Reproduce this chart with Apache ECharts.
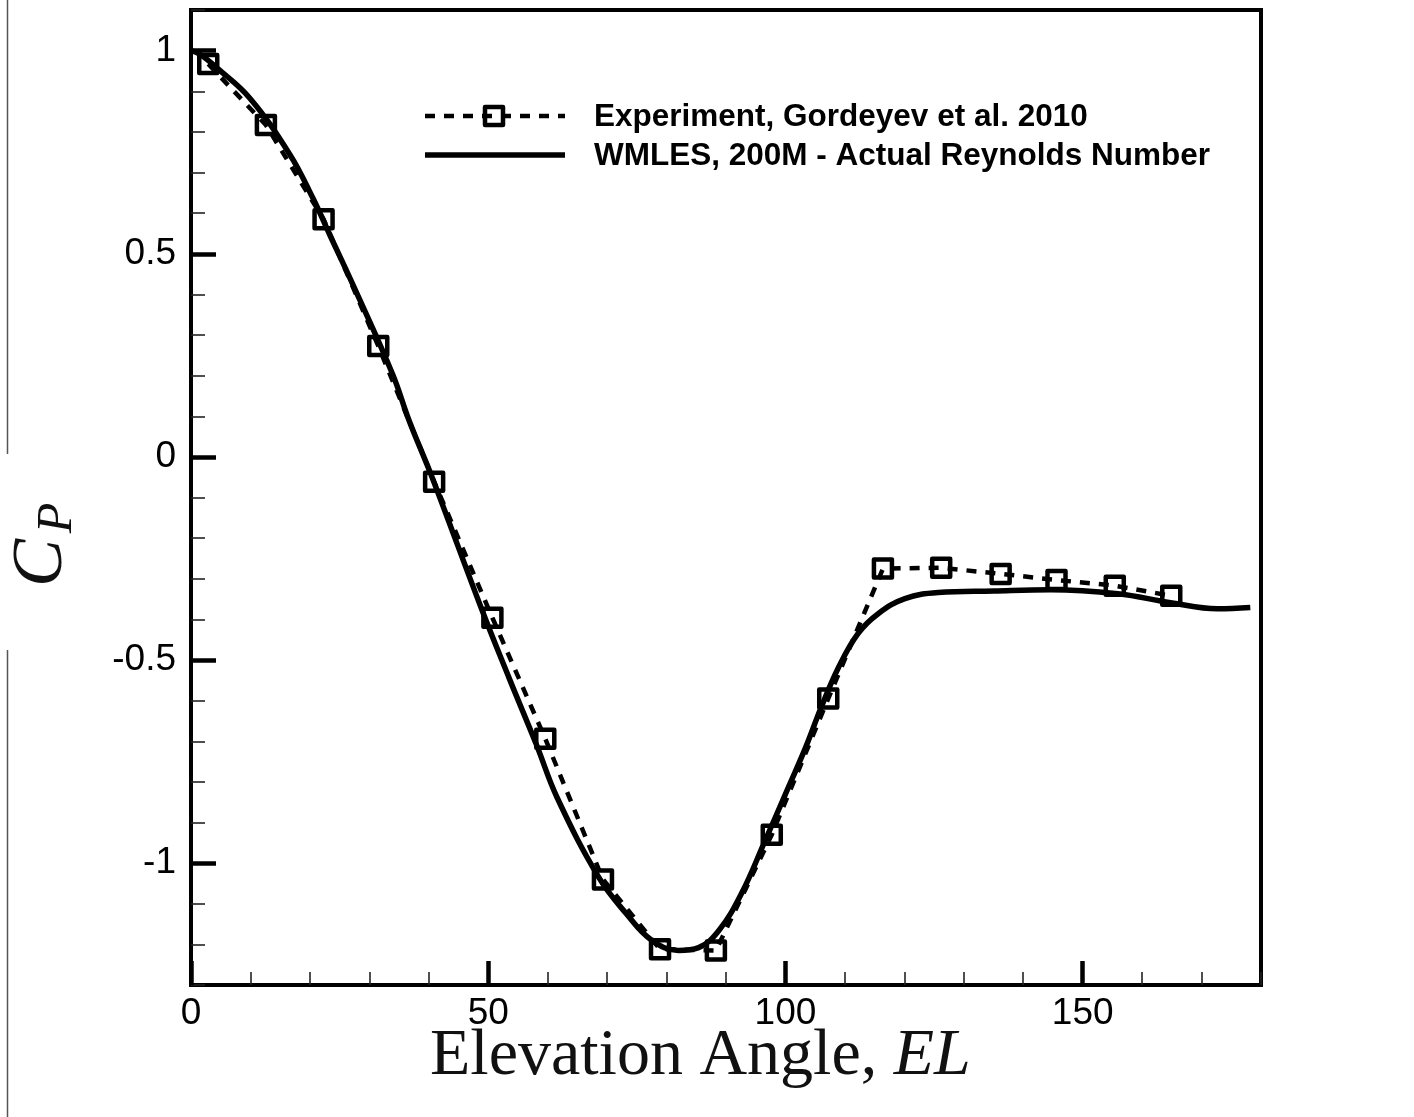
<!DOCTYPE html>
<html>
<head>
<meta charset="utf-8">
<script src="https://cdn.jsdelivr.net/npm/echarts@6/dist/echarts.min.js"></script>
<style>
  html, body { margin: 0; padding: 0; background: #fff; }
  #chart { width: 1414px; height: 1117px; }
</style>
</head>
<body>
<div id="chart"></div>
<script>
// Surface pressure coefficient versus elevation angle
var expAngle = [2.9, 12.6, 22.3, 31.5, 40.9, 50.7, 59.6, 69.3, 78.9, 88.3, 97.7, 107.2, 116.4, 126.2, 136.2, 145.6, 155.4, 164.9];
var expCp    = [0.967, 0.817, 0.585, 0.273, -0.061, -0.396, -0.694, -1.040, -1.212, -1.215, -0.930, -0.595, -0.275, -0.273, -0.288, -0.303, -0.317, -0.342];

var lesAngle = [0, 1.5, 4.4, 9.9, 16.6, 20.5, 23.3, 27.2, 33.9, 36.7, 40.6, 49.0, 53.5, 58.1, 61.6, 68.6, 73.2, 77.5, 82.0, 85.4, 88.8, 92.6, 96.6, 100.0, 103.4, 106.0, 108.9, 112.2, 115.6, 120.1, 125.7, 135.0, 144.6, 155.9, 164.8, 172.7, 178.2];
var lesCp    = [1.0, 0.991, 0.957, 0.883, 0.745, 0.637, 0.548, 0.425, 0.204, 0.089, -0.052, -0.379, -0.544, -0.708, -0.839, -1.035, -1.124, -1.190, -1.215, -1.208, -1.166, -1.075, -0.944, -0.830, -0.715, -0.617, -0.519, -0.435, -0.386, -0.349, -0.334, -0.330, -0.327, -0.337, -0.359, -0.374, -0.371];

var xMajor = [0, 50, 100, 150];
var yMajor = [-1, -0.5, 0, 0.5, 1];

var expName = 'Experiment, Gordeyev et al. 2010';
var lesName = 'WMLES, 200M - Actual Reynolds Number';

function pairs(xs, ys) {
  return xs.map(function (x, i) { return [x, ys[i]]; });
}

var labelFont = { fontFamily: 'Liberation Sans', fontSize: 37, color: '#000' };
var legendFont = 'bold 31.5px "Liberation Sans"';

var chart = echarts.init(document.getElementById('chart'), null, { renderer: 'canvas' });
chart.setOption({
  animation: false,
  backgroundColor: '#fff',
  grid: {
    left: 191, right: 153, top: 10, bottom: 132,
    show: true, borderColor: '#000', borderWidth: 4, backgroundColor: 'transparent'
  },
  xAxis: [
    {
      type: 'value', min: 0, max: 180, interval: 10,
      axisLine: { show: false, onZero: false },
      axisTick: { show: true, inside: true, length: 13, lineStyle: { color: '#222', width: 1.6 } },
      axisLabel: Object.assign({ customValues: xMajor, margin: 10 }, labelFont),
      splitLine: { show: false }
    },
    {
      type: 'value', min: 0, max: 180, position: 'bottom',
      axisLine: { show: false, onZero: false },
      axisTick: { show: true, inside: true, length: 24, customValues: xMajor, lineStyle: { color: '#000', width: 4.5 } },
      axisLabel: { show: false },
      splitLine: { show: false }
    }
  ],
  yAxis: [
    {
      type: 'value', min: -1.3, max: 1.1, interval: 0.1,
      axisLine: { show: false, onZero: false },
      axisTick: { show: true, inside: true, length: 14, lineStyle: { color: '#222', width: 1.6 } },
      axisLabel: Object.assign({ customValues: yMajor, margin: 15 }, labelFont),
      splitLine: { show: false }
    },
    {
      type: 'value', min: -1.3, max: 1.1, position: 'left',
      axisLine: { show: false, onZero: false },
      axisTick: { show: true, inside: true, length: 25, customValues: yMajor, lineStyle: { color: '#000', width: 4.5 } },
      axisLabel: { show: false },
      splitLine: { show: false }
    }
  ],
  series: [
    {
      name: expName,
      type: 'line',
      data: pairs(expAngle, expCp),
      symbol: 'rect',
      symbolSize: 18,
      showAllSymbol: true,
      lineStyle: { color: '#000', width: 4.5, type: [10, 9] },
      itemStyle: { color: 'rgba(255,255,255,0)', borderColor: '#000', borderWidth: 4.5, borderJoin: 'round' },
      z: 3
    },
    {
      name: lesName,
      type: 'line',
      data: pairs(lesAngle, lesCp),
      symbol: 'none',
      smooth: 0.4,
      lineStyle: { color: '#000', width: 5.5 },
      z: 4
    }
  ],
  graphic: [
    // legend key
    { type: 'line', shape: { x1: 425, y1: 116, x2: 565, y2: 116 }, style: { stroke: '#000', lineWidth: 4.5, lineDash: [10, 9] } },
    { type: 'rect', shape: { x: 485, y: 107, width: 18, height: 18 }, style: { fill: 'none', stroke: '#000', lineWidth: 4.5, lineJoin: 'round' } },
    { type: 'text', x: 594, y: 117, style: { text: expName, font: legendFont, fill: '#000', verticalAlign: 'middle' } },
    { type: 'line', shape: { x1: 425, y1: 155, x2: 565, y2: 155 }, style: { stroke: '#000', lineWidth: 5.5 } },
    { type: 'text', x: 594, y: 156, style: { text: lesName, font: legendFont, fill: '#000', verticalAlign: 'middle' } },
    // axis titles
    {
      type: 'text', x: 430, y: 1090,
      style: {
        text: '{r|Elevation Angle, }{i|EL}',
        verticalAlign: 'bottom',
        rich: {
          r: { fontFamily: 'Liberation Serif', fontSize: 66, fill: '#111' },
          i: { fontFamily: 'Liberation Serif', fontStyle: 'italic', fontSize: 66, fill: '#111' }
        }
      }
    },
    {
      type: 'text', x: 42, y: 563, rotation: Math.PI / 2,
      style: { text: 'C', font: 'italic 72px "Liberation Serif"', fill: '#111', align: 'center', verticalAlign: 'middle' }
    },
    {
      type: 'text', x: 58, y: 518, rotation: Math.PI / 2,
      style: { text: 'P', font: 'italic 50px "Liberation Serif"', fill: '#111', align: 'center', verticalAlign: 'middle' }
    },
    { type: 'line', shape: { x1: 7.5, y1: 0, x2: 7.5, y2: 454 }, style: { stroke: '#555', lineWidth: 1.5 } },
    { type: 'line', shape: { x1: 7.5, y1: 650, x2: 7.5, y2: 1117 }, style: { stroke: '#555', lineWidth: 1.5 } }
  ]
});
</script>
</body>
</html>
